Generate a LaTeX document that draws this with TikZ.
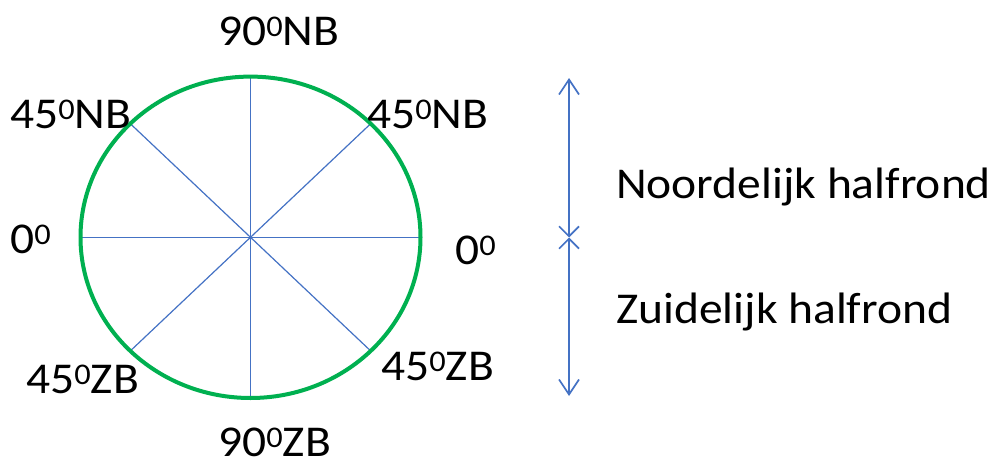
\documentclass[tikz,border=0pt]{standalone}
\usepackage{fontspec}
\setmainfont[FakeStretch=1.08]{Carlito}
\usetikzlibrary{arrows.meta,calc}
\definecolor{ringgreen}{HTML}{00B050}
\definecolor{spokeblue}{HTML}{4472C4}
\newcommand{\supnul}{\raisebox{9pt}{\fontsize{30}{30}\selectfont 0}}
\tikzset{
  lbl/.style={anchor=base west,inner sep=0pt,font=\fontsize{44}{44}\selectfont,text=black},
  spoke/.style={draw=spokeblue,line width=1.2pt},
  ring/.style={draw=ringgreen,line width=4pt},
  hemi/.style={draw=spokeblue,line width=1.7pt},
}
\begin{document}
\begin{tikzpicture}[x=1pt,y=-1pt]
\useasboundingbox (0,0) rectangle (991,466);
\coordinate (c) at (250.5,237.3);
\foreach \a in {0,45,...,315}{
  \coordinate (p\a) at ($(c)+(\a:170 and 160.7)$);
}
\foreach \a in {0,45,...,315}{
  \draw[spoke] (c) -- (p\a);
}
\draw[ring] (c) ellipse [x radius=170, y radius=160.7];

\node[lbl] (n90) at (218,45) {90\supnul NB};
\node[lbl] (n45l) at (10,128) {45\supnul NB};
\node[lbl] (n45r) at (367,128) {45\supnul NB};
\node[lbl] (e0l) at (10,253) {0\supnul};
\node[lbl] (e0r) at (455,264) {0\supnul};
\node[lbl] (z45l) at (26,393) {45\supnul ZB};
\node[lbl] (z45r) at (381,380) {45\supnul ZB};
\node[lbl] (z90) at (218,456) {90\supnul ZB};
\node[lbl] (noord) at (616,198) {Noordelijk halfrond};
\node[lbl] (zuid) at (616,323) {Zuidelijk halfrond};

\coordinate (atop) at (569,78);
\coordinate (amid) at (569,237.5);
\coordinate (abot) at (569,396);
\draw[hemi,{Straight Barb[length=15pt,width=20pt]}-{Straight Barb[length=10pt,width=20pt]}] (atop) -- (amid);
\draw[hemi,{Straight Barb[length=10pt,width=20pt]}-{Straight Barb[length=15pt,width=20pt]}] (amid) -- (abot);
\end{tikzpicture}
\end{document}
